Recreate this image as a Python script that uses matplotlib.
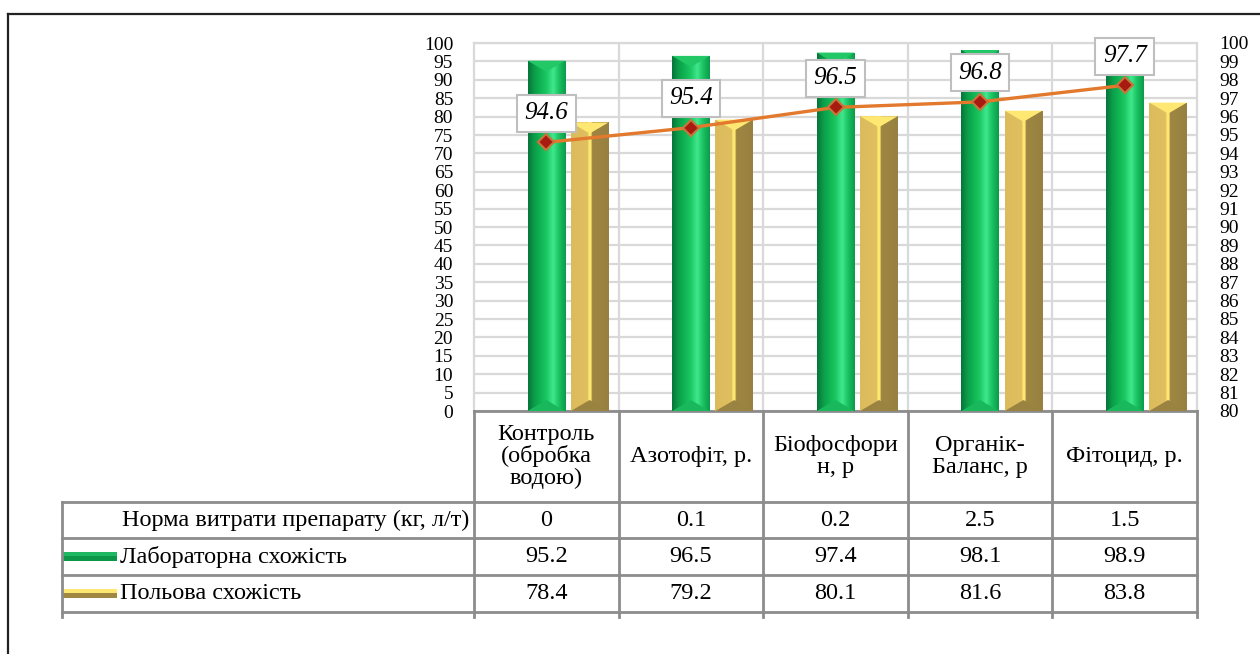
import numpy as np
import matplotlib
matplotlib.use("Agg")
import matplotlib.pyplot as plt
from matplotlib.colors import LinearSegmentedColormap
from matplotlib.patches import Rectangle, Polygon
from matplotlib.lines import Line2D

plt.rcParams['font.family'] = ['Liberation Serif', 'DejaVu Serif']

categories = ['Контроль\n(обробка\nводою)', 'Азотофіт, р.', 'Біофосфори\nн, р',
              'Органік-\nБаланс, р', 'Фітоцид, р.']
dose = ['0', '0.1', '0.2', '2.5', '1.5']
lab = [95.2, 96.5, 97.4, 98.1, 98.9]
field = [78.4, 79.2, 80.1, 81.6, 83.8]
line_vals = [94.6, 95.4, 96.5, 96.8, 97.7]
row_names = ['Норма витрати препарату (кг, л/т)', 'Лабораторна схожість', 'Польова схожість']

W, H = 1260, 654
fig = plt.figure(figsize=(W / 100, H / 100), dpi=100)

# plot area in pixels
px0, px1, py0, py1 = 474, 1197, 43, 411
ax = fig.add_axes([px0 / W, 1 - py1 / H, (px1 - px0) / W, (py1 - py0) / H])
ax2 = ax.twinx()

green_cmap = LinearSegmentedColormap.from_list(
    'g', ['#06753a', '#0c9e49', '#10b552', '#1cc964', '#3fe88c', '#19c060', '#0c9c4a'])
yellow_cmap = LinearSegmentedColormap.from_list(
    'y', [(0, '#dcbb5c'), (0.44, '#e0bf60'), (0.47, '#ffe872'), (0.53, '#ffe872'),
          (0.56, '#9e8642'), (1, '#988040')])

x = np.arange(len(categories))
bw = 0.26
grad = np.linspace(0, 1, 64).reshape(1, -1)
px_per_unit = (py1 - py0) / 100.0
cap = 11 / px_per_unit


def bevel_bar(xc, h, cmap, top_col, bot_col):
    rect = Rectangle((xc - bw / 2, 0), bw, h, facecolor='none', edgecolor='none')
    ax.add_patch(rect)
    im = ax.imshow(grad, cmap=cmap, extent=[xc - bw / 2, xc + bw / 2, 0, h],
                   aspect='auto', zorder=3, interpolation='bilinear')
    im.set_clip_path(rect)
    ax.add_patch(Polygon([(xc - bw / 2, h), (xc + bw / 2, h), (xc, h - cap)],
                         closed=True, facecolor=top_col, edgecolor='none', zorder=4))
    ax.add_patch(Polygon([(xc - bw / 2, 0), (xc + bw / 2, 0), (xc, cap)],
                         closed=True, facecolor=bot_col, edgecolor='none', zorder=4))


for i in range(len(categories)):
    bevel_bar(x[i], lab[i], green_cmap, '#22c766', '#19b85c')
    bevel_bar(x[i] + 0.30, field[i], yellow_cmap, '#ffe872', '#9a8240')

ax.set_xlim(-0.5, len(categories) - 0.5)
ax.set_ylim(0, 100)
ax.set_yticks(np.arange(0, 101, 5))
ax.set_xticks([])
ax.set_xticks(np.arange(0.5, len(categories) - 0.5, 1), minor=True)
ax.tick_params(axis='x', which='both', length=0, labelbottom=False)
ax.tick_params(axis='y', length=0, labelsize=14, pad=15)
ax.grid(True, axis='y', color='#d9d9d9', lw=1.6)
ax.grid(True, axis='x', which='minor', color='#d9d9d9', lw=1.6)
ax.set_axisbelow(True)
for s in ['left', 'right', 'top']:
    ax.spines[s].set_color('#d9d9d9')
    ax.spines[s].set_linewidth(1.6)
ax.spines['bottom'].set_color('#8c8c8c')
ax.spines['bottom'].set_linewidth(2)

ax2.plot(x, line_vals, color='#e2792c', lw=2.4, marker='D', markersize=8.5,
         markerfacecolor='#a81b10', markeredgecolor='#c8743a', markeredgewidth=1.5, zorder=5)
ax2.set_ylim(80, 100)
ax2.set_yticks(np.arange(80, 101, 1))
ax2.tick_params(axis='y', length=0, labelsize=14, pad=16)
for s in ax2.spines.values():
    s.set_visible(False)
for i, v in enumerate(line_vals):
    ax2.annotate(f'{v:.1f}', (x[i], v), xytext=(0, 21), textcoords='offset points',
                 ha='center', va='center', fontsize=18, style='italic',
                 bbox=dict(boxstyle='square,pad=0.3', facecolor='white',
                           edgecolor='#bfbfbf', lw=1.5), zorder=6)

# data table under the chart
tx0, ty1 = 62, 617
unit = (px1 - px0) / len(categories)
tax = fig.add_axes([tx0 / W, 1 - ty1 / H, (px1 - tx0) / W, (ty1 - py1) / H])
tax.set_xlim(-0.5 - (px0 - tx0) / unit, len(categories) - 0.5)
tax.set_ylim(ty1 - py1, 0)
tax.axis('off')
gc = '#8c8c8c'
rows = [91, 127, 164, 201]
xl = -0.5 - (px0 - tx0) / unit
for r in rows:
    tax.plot([xl, len(categories) - 0.5], [r, r], color=gc, lw=2, clip_on=False)
for b in np.arange(-0.5, len(categories), 1):
    tax.plot([b, b], [0, ty1 - py1], color=gc, lw=2, clip_on=False)
tax.plot([xl, xl], [91, ty1 - py1], color=gc, lw=2, clip_on=False)

fs = 17.5
for i, c in enumerate(categories):
    tax.text(x[i], 45.5, c, ha='center', va='center', fontsize=fs, linespacing=1.05)
table_rows = [dose, [f'{v:.1f}' for v in lab], [f'{v:.1f}' for v in field]]
for r, vals in enumerate(table_rows):
    yc = (rows[r] + rows[r + 1]) / 2
    for i, v in enumerate(vals):
        tax.text(x[i], yc, v, ha='center', va='center', fontsize=fs)

tax.text(-0.5 - 0.03, (rows[0] + rows[1]) / 2, row_names[0], ha='right', va='center', fontsize=fs)
key_w = 54 / unit
for r, (name, cm) in enumerate([(row_names[1], green_cmap), (row_names[2], yellow_cmap)], start=1):
    yc = (rows[r] + rows[r + 1]) / 2
    kx = xl + 1.5 / unit
    tax.add_patch(Rectangle((kx, yc - 4.5), key_w, 9,
                            facecolor='#0c9647' if r == 1 else '#a08842', edgecolor='none'))
    tax.add_patch(Rectangle((kx, yc - 4.5), key_w, 3.5,
                            facecolor='#1fb862' if r == 1 else '#ffe872', edgecolor='none'))
    tax.text(kx + key_w + 3 / unit, yc, name, ha='left', va='center', fontsize=fs)

# outer frame
fig.add_artist(Line2D([8 / W, 8 / W], [0, 1 - 14 / H], color='#222222', lw=1.6))
fig.add_artist(Line2D([8 / W, 1], [1 - 14 / H, 1 - 14 / H], color='#222222', lw=1.6))

fig.savefig('out.png', dpi=100)
